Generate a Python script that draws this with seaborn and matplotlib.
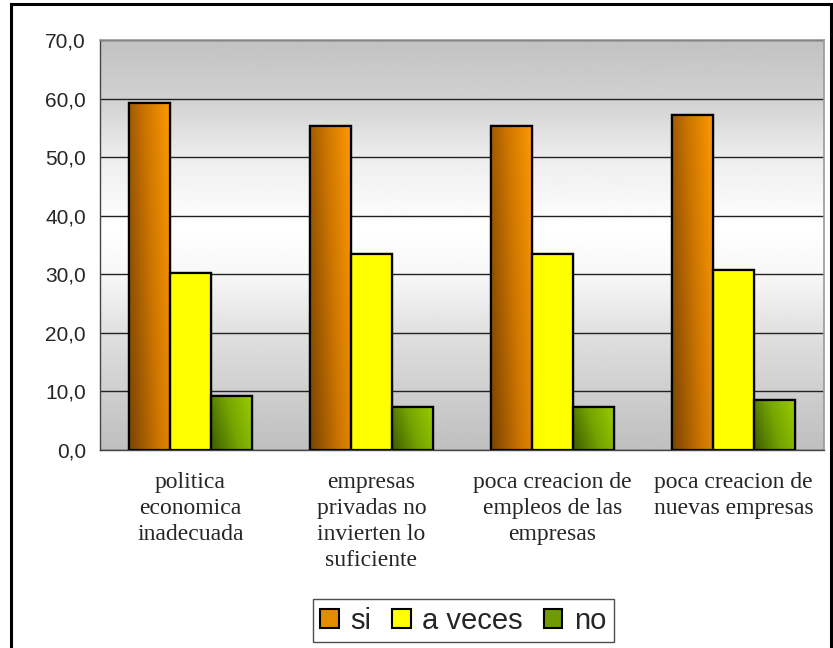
import numpy as np
import pandas as pd
import matplotlib
matplotlib.use("Agg")
import matplotlib.pyplot as plt
from matplotlib.colors import LinearSegmentedColormap
from matplotlib.patches import Patch, Rectangle
from matplotlib.ticker import FuncFormatter, MultipleLocator
import seaborn as sns

# datos
categorias = [
    "politica\neconomica\ninadecuada",
    "empresas\nprivadas no\ninvierten lo\nsuficiente",
    "poca creacion de\nempleos de las\nempresas",
    "poca creacion de\nnuevas empresas",
]
series = ["si", "a veces", "no"]
valores_si = [59.2, 55.3, 55.3, 57.2]
valores_a_veces = [30.2, 33.5, 33.5, 30.8]
valores_no = [9.2, 7.4, 7.4, 8.5]

df = pd.DataFrame({
    "categoria": categorias * 3,
    "serie": [s for s in series for _ in categorias],
    "valor": valores_si + valores_a_veces + valores_no,
})

colores = {"si": "#e68a00", "a veces": "#ffff00", "no": "#6f9a00"}
# degradados estilo Excel
gradientes = {
    "si": LinearSegmentedColormap.from_list("si", ["#7a4300", "#c87200", "#ff9a00"]),
    "a veces": LinearSegmentedColormap.from_list("av", ["#ffff00", "#ffff00"]),
    "no": LinearSegmentedColormap.from_list("no", ["#3d5c00", "#74a400", "#9ccc00"]),
}

sns.set_style("white")
plt.rcParams["font.family"] = ["Liberation Sans", "DejaVu Sans"]

fig = plt.figure(figsize=(8.33, 6.48), dpi=100)
ax = fig.add_axes([0.120, 0.3056, 0.869, 0.6327])

sns.barplot(data=df, x="categoria", y="valor", hue="serie", order=categorias,
            hue_order=series, palette=colores, width=0.68, ax=ax,
            edgecolor="black", linewidth=1.6, legend=False, zorder=3)

# fondo degradado gris-blanco-gris
yy = np.linspace(0, 70, 256)
gris = np.interp(yy, [0, 10, 20, 30, 38, 50, 60, 70],
                 [0.75, 0.81, 0.88, 0.97, 1.0, 0.93, 0.82, 0.76])
fondo_cmap = LinearSegmentedColormap.from_list("fondo", ["#000000", "#ffffff"])
ax.imshow(gris[:, None], extent=(-0.5, 3.5, 0, 70), origin="lower", aspect="auto",
          cmap=fondo_cmap, vmin=0, vmax=1, zorder=0)

# degradado en las barras
xg, yg = np.meshgrid(np.linspace(0, 1, 64), np.linspace(0, 1, 64))
grad = 0.75 * xg + 0.25 * yg
for i, serie in enumerate(series):
    for j in range(len(categorias)):
        barra = ax.patches[i * len(categorias) + j]
        x0, y0 = barra.get_x(), barra.get_y()
        w, h = barra.get_width(), barra.get_height()
        im = ax.imshow(grad, extent=(x0, x0 + w, y0, y0 + h), origin="lower",
                       aspect="auto", cmap=gradientes[serie], vmin=0, vmax=1, zorder=3.5)
        im.set_clip_path(barra)
        borde = Rectangle((x0, y0), w, h, fill=False, edgecolor="black",
                          linewidth=1.6, zorder=4)
        ax.add_patch(borde)

ax.set_xlim(-0.5, 3.5)
ax.set_ylim(0, 70)

ax.yaxis.set_major_locator(MultipleLocator(10))
ax.yaxis.set_major_formatter(FuncFormatter(lambda v, p: f"{v:.1f}".replace(".", ",")))
ax.grid(axis="y", color="#222222", linewidth=1.0, zorder=1)
ax.set_axisbelow(True)

ax.set_xticks(range(len(categorias)))
ax.set_xticklabels(categorias, family=["Liberation Serif"], fontsize=17, linespacing=1.3)
ax.set_xticks(np.arange(-0.5, 4.0, 1.0), minor=True)
ax.tick_params(axis="x", which="major", length=0, pad=16)
ax.tick_params(axis="x", which="minor", length=5, width=1, color="#333333", direction="out")
ax.tick_params(axis="y", length=6, width=1, color="#333333", direction="out",
               labelsize=15, pad=4)
ax.set_xlabel("")
ax.set_ylabel("")

for lado in ["left", "bottom"]:
    ax.spines[lado].set_color("#444444")
    ax.spines[lado].set_linewidth(1.0)
for lado in ["top", "right"]:
    ax.spines[lado].set_color("#999999")
    ax.spines[lado].set_linewidth(1.2)

# leyenda
handles = [Patch(facecolor=colores[s], edgecolor="black", linewidth=1.5) for s in series]
fig.legend(handles, series, loc="center", bbox_to_anchor=(0.556, 0.042), ncol=3,
           fontsize=21, frameon=True, fancybox=False, edgecolor="#222222",
           handlelength=0.65, handleheight=0.65, handletextpad=0.4, columnspacing=0.7,
           borderpad=0.25, borderaxespad=0.3)

# marco exterior
fig.patches.append(Rectangle((0.013, -0.01), 0.984, 1.004, transform=fig.transFigure,
                             fill=False, edgecolor="black", linewidth=2.2))

fig.savefig("out.png", dpi=100)
